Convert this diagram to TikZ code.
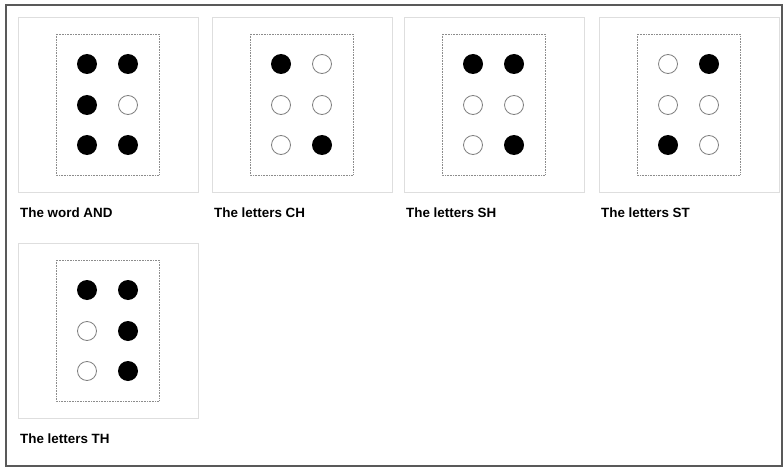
\documentclass[tikz,border=0pt]{standalone}
\usepackage{fontspec}
\setmainfont{Liberation Sans}
\begin{document}
\begin{tikzpicture}[x=1pt,y=-1pt,
  frame/.style={draw=black!65, line width=1.6pt},
  outerpanel/.style={draw=black!13, line width=0.8pt},
  innerpanel/.style={draw=black!45, line width=0.6pt, densely dotted},
  on/.style={circle, fill=black, minimum size=20pt, inner sep=0pt},
  off/.style={circle, draw=black!50, line width=0.8pt, fill=white, minimum size=19pt, inner sep=0pt},
  caption/.style={anchor=west, inner sep=0pt, font=\bfseries\fontsize{13.4}{16}\selectfont}]
\useasboundingbox (0,0) rectangle (784,468);
\fill[white] (0,0) rectangle (784,468);
\draw[frame] (6,5) rectangle (782,466);
\foreach \x/\y/\n/\t/\a/\b/\c/\d/\e/\f in {
  18/17/1/The word AND/on/on/on/off/on/on,
  212/17/2/The letters CH/on/off/off/off/off/on,
  404/17/3/The letters SH/on/on/off/off/off/on,
  599/17/4/The letters ST/off/on/off/off/on/off,
  18/243/5/The letters TH/on/on/off/on/off/on}{
  \draw[outerpanel] (\x,\y) rectangle ({\x+180},{\y+175});
  \draw[innerpanel] ({\x+38},{\y+17}) rectangle ({\x+141},{\y+158});
  \node[\a] (p\n a) at ({\x+69},{\y+47}) {};
  \node[\b] (p\n b) at ({\x+110},{\y+47}) {};
  \node[\c] (p\n c) at ({\x+69},{\y+88}) {};
  \node[\d] (p\n d) at ({\x+110},{\y+88}) {};
  \node[\e] (p\n e) at ({\x+69},{\y+128}) {};
  \node[\f] (p\n f) at ({\x+110},{\y+128}) {};
  \node[caption] (l\n) at ({\x+2},{\y+196}) {\t};
}
\end{tikzpicture}
\end{document}
